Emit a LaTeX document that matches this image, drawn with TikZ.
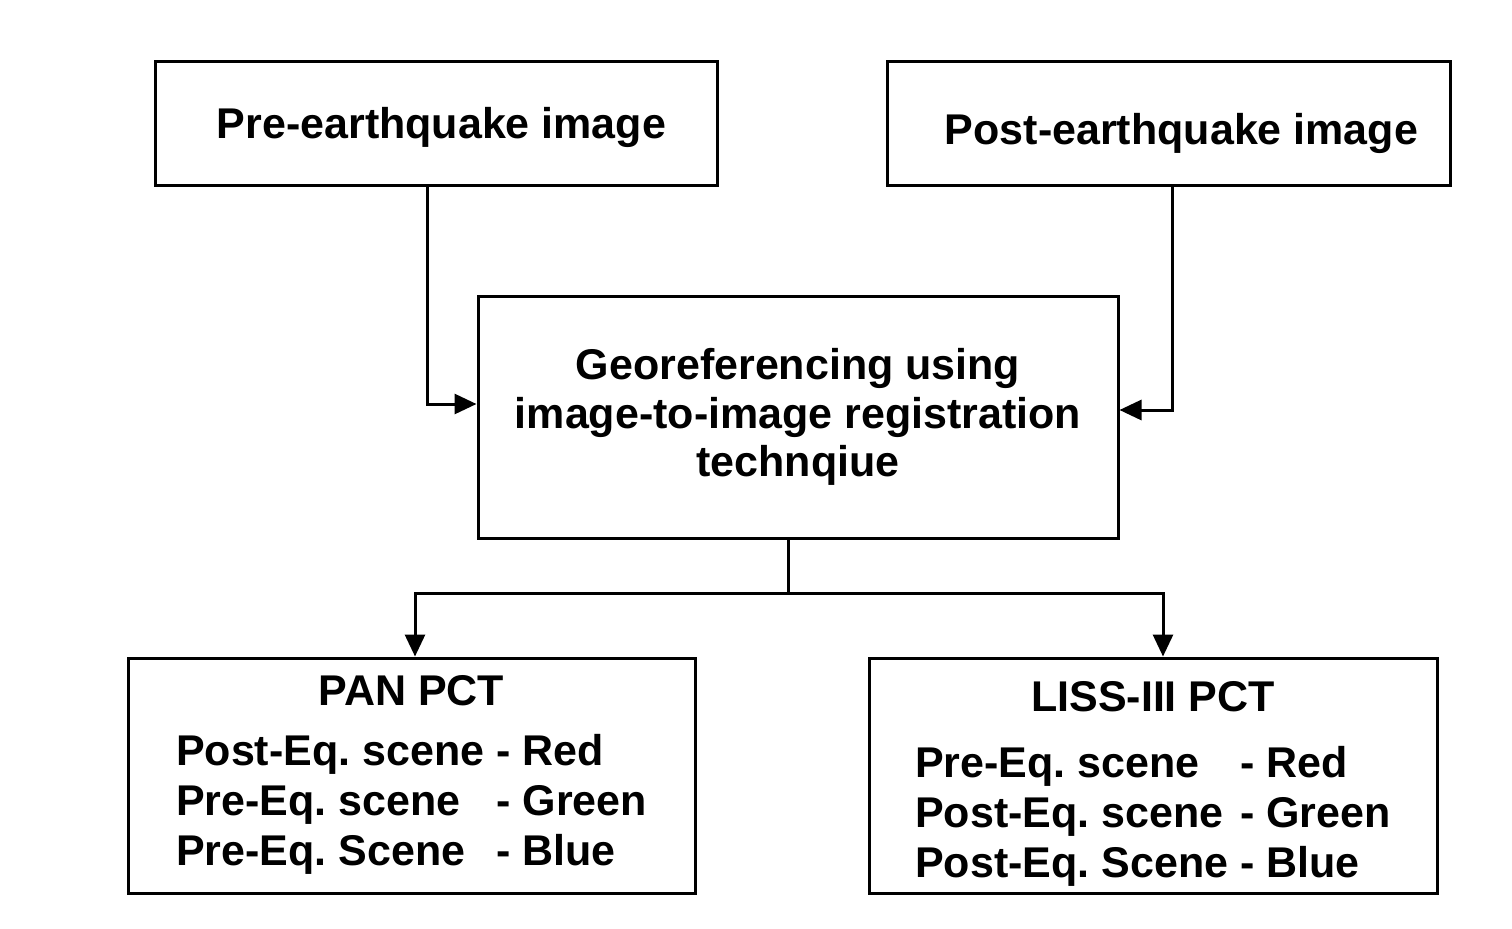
\documentclass[tikz,border=0pt]{standalone}
\usepackage{fontspec}
\setmainfont{Liberation Sans}
\usetikzlibrary{arrows.meta}

\tikzset{
	box/.style={draw, line width=1.5pt, inner sep=0pt, font=\fontsize{21.5}{25}\selectfont\bfseries\frenchspacing},
	link/.style={line width=1.5pt, -{Triangle[length=11pt,width=10pt]}},
}

\begin{document}
\begin{tikzpicture}[x=0.5pt, y=-0.5pt]
	\useasboundingbox (0,0) rectangle (1512,928);
	\node (pre) [box, minimum width=281pt, minimum height=62pt, text height=20pt, text depth=4.5pt] at (436,123) {\hspace*{5.5pt}Pre-earthquake image};
	\node (post) [box, minimum width=281.5pt, minimum height=62pt, text height=25.5pt, text depth=4.5pt] at (1168.5,123) {\hspace*{13pt}Post-earthquake image};
	\node (geo) [box, align=center, minimum width=320pt, minimum height=121pt, font=\fontsize{21.5}{24.4}\selectfont\bfseries] at (798,417)
		{Georeferencing using\\image-to-image registration\\technqiue};
	\node (pan) [box, minimum width=283.5pt, minimum height=117.5pt] at (411.5,775.5)
		{\begin{tabular}{@{}l@{ }l@{}}
			\multicolumn{2}{c}{PAN PCT}\\[5pt]
			Post-Eq. scene & - Red\\
			Pre-Eq. scene & - Green\\
			Pre-Eq. Scene & - Blue
		\end{tabular}};
	\node (liss) [box, minimum width=284pt, minimum height=117.5pt] at (1153,775.5)
		{\begin{tabular}{@{}l@{ }l@{}}
			\multicolumn{2}{c}{\rule{0pt}{26pt}LISS-III PCT}\\[8pt]
			Pre-Eq. scene & - Red\\
			Post-Eq. scene & - Green\\
			Post-Eq. Scene & - Blue
		\end{tabular}};
	\coordinate (split) at (788,593);
	\draw [link] ([xshift=-4.5pt]pre.south) |- ([yshift=6.5pt]geo.west);
	\draw [link] ([xshift=1.75pt]post.south) |- ([yshift=3.5pt]geo.east);
	\draw [line width=1.5pt] ([xshift=-5pt]geo.south) -- (split);
	\draw [link] (split) -| ([xshift=1.75pt]pan.north);
	\draw [link] (split) -| ([xshift=5pt]liss.north);
\end{tikzpicture}
\end{document}
